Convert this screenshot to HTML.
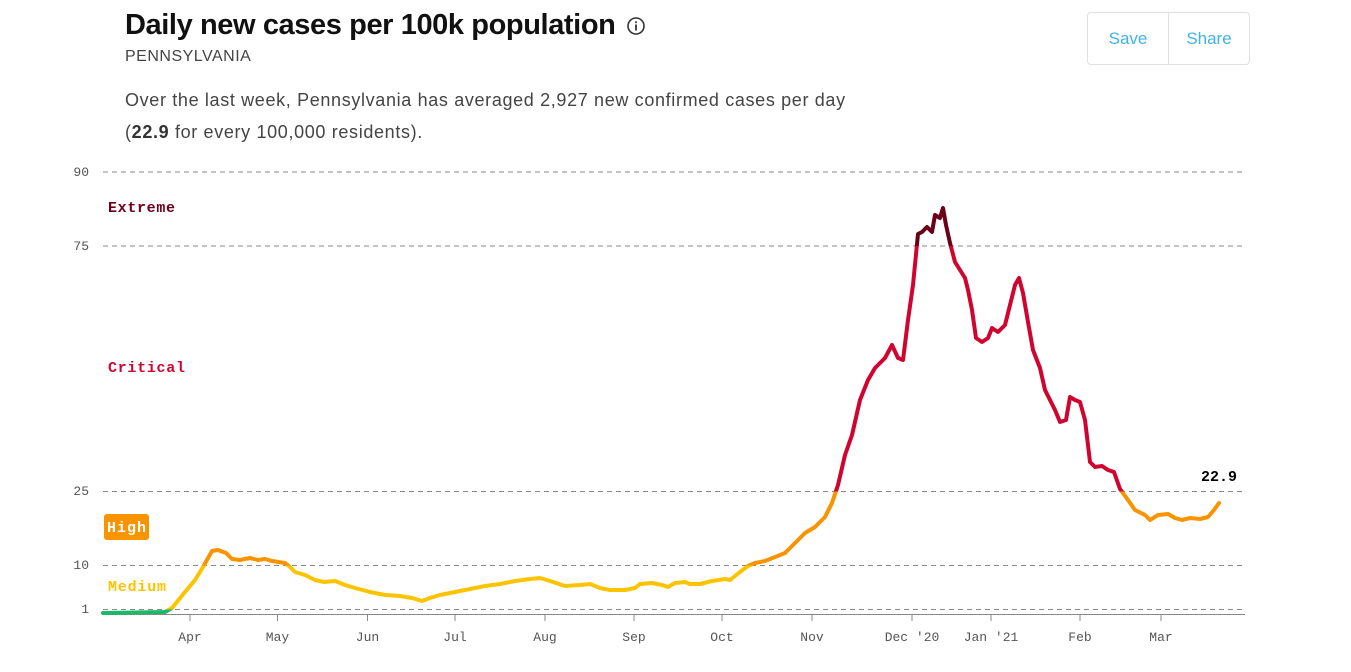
<!DOCTYPE html>
<html><head><meta charset="utf-8"><style>
body{margin:0;background:#fff;width:1351px;height:672px;overflow:hidden;position:relative;font-family:"Liberation Sans",sans-serif}
.t{position:absolute;left:125px;top:9px;font-size:29px;font-weight:bold;color:#111;letter-spacing:-0.4px}
.st{position:absolute;left:125px;top:48px;font-size:16px;color:#444;letter-spacing:0.5px}
.d{position:absolute;left:125px;top:84px;font-size:18px;color:#444;line-height:32px;letter-spacing:0.65px}
.btn{position:absolute;left:1087px;top:12px;width:161px;height:51px;border:1px solid #e0e0e0;border-radius:4px;display:flex}
.btn div{flex:1;text-align:center;line-height:51px;color:#3fb3e8;font-size:17px}
.btn div:first-child{border-right:1px solid #e0e0e0}
</style></head><body>
<div class="t">Daily new cases per 100k population</div>
<svg style="position:absolute;left:626px;top:16px" width="20" height="20"><circle cx="10" cy="10" r="8" fill="none" stroke="#333" stroke-width="1.6"/><rect x="9.1" y="8.5" width="1.8" height="6" fill="#333"/><rect x="9.1" y="5.3" width="1.8" height="1.8" fill="#333"/></svg>
<div class="st">PENNSYLVANIA</div>
<div class="d">Over the last week, Pennsylvania has averaged 2,927 new confirmed cases per day<br>(<b style="color:#333">22.9</b> for every 100,000 residents).</div>
<div class="btn"><div>Save</div><div>Share</div></div>
<svg style="position:absolute;left:0;top:0" width="1351" height="672" font-family="Liberation Mono, monospace">
<defs>
<clipPath id="c0"><rect x="0" y="609.5" width="1351" height="100"/></clipPath>
<clipPath id="c1"><rect x="0" y="565.5" width="1351" height="44"/></clipPath>
<clipPath id="c2"><rect x="0" y="491.5" width="1351" height="74"/></clipPath>
<clipPath id="c3"><rect x="0" y="246" width="1351" height="245.5"/></clipPath>
<clipPath id="c4"><rect x="0" y="0" width="1351" height="246"/></clipPath>
<path id="p" fill="none" stroke-width="4" stroke-linejoin="round" stroke-linecap="round" d="M103,613 L165,612 172,608 185,592 195,580 203,567 212,551 218,550 226,553 232,559 240,560 250,558 258,560 265,559 272,561 285,563 290,567 295,572 305,575 315,580 324,582 335,581 345,585 355,588 370,592 385,595 400,596 412,598 422,601 430,598 440,595 455,592 470,589 485,586 500,584 515,581 530,579 540,578 550,581 565,586 580,585 590,584 600,588 610,590 625,590 635,588 640,584 652,583 662,585 668,587 675,583 685,582 690,584 700,584 712,581 725,579 730,580 740,572 748,566 755,563 765,561 775,557 785,553 795,543 805,533 815,527 825,517 832,503 838,485 845,455 852,435 860,400 868,380 875,368 885,358 892,345 898,358 903,360 908,320 913,285 918,234 922,232 927,227 932,232 935,215 940,218 943,208 946,225 950,243 955,262 960,270 965,278 968,290 972,310 976,338 982,342 988,338 992,328 998,332 1005,325 1010,305 1015,285 1019,278 1023,293 1028,322 1033,350 1040,368 1045,390 1050,400 1055,410 1060,422 1066,420 1070,397 1075,400 1080,402 1085,420 1090,462 1095,467 1102,466 1108,470 1114,472 1120,489 1128,500 1135,510 1145,515 1150,520 1158,515 1168,514 1175,518 1182,520 1190,518 1200,519 1208,517 1214,510 1219,503"/>
</defs>
<g stroke="#888" stroke-width="1" stroke-dasharray="5,4">
<line x1="103" x2="1245" y1="172" y2="172"/><line x1="103" x2="1245" y1="246" y2="246"/><line x1="103" x2="1245" y1="491.5" y2="491.5"/><line x1="103" x2="1245" y1="565.5" y2="565.5"/><line x1="103" x2="1245" y1="609.5" y2="609.5"/>
</g>
<line x1="103" x2="1245" y1="614.5" y2="614.5" stroke="#888"/>
<g stroke="#888"><line x1="190" x2="190" y1="614" y2="621"/><line x1="277.5" x2="277.5" y1="614" y2="621"/><line x1="367.5" x2="367.5" y1="614" y2="621"/><line x1="455" x2="455" y1="614" y2="621"/><line x1="545" x2="545" y1="614" y2="621"/><line x1="634" x2="634" y1="614" y2="621"/><line x1="722" x2="722" y1="614" y2="621"/><line x1="812" x2="812" y1="614" y2="621"/><line x1="912" x2="912" y1="614" y2="621"/><line x1="991" x2="991" y1="614" y2="621"/><line x1="1080" x2="1080" y1="614" y2="621"/><line x1="1161" x2="1161" y1="614" y2="621"/></g>
<g font-size="13" fill="#555">
<text x="89" y="176" text-anchor="end">90</text><text x="89" y="250" text-anchor="end">75</text><text x="89" y="495" text-anchor="end">25</text><text x="89" y="569" text-anchor="end">10</text><text x="89" y="613" text-anchor="end">1</text>
</g>
<g font-size="13" fill="#555" text-anchor="middle">
<text x="190" y="641">Apr</text><text x="277.5" y="641">May</text><text x="367.5" y="641">Jun</text><text x="455" y="641">Jul</text><text x="545" y="641">Aug</text><text x="634" y="641">Sep</text><text x="722" y="641">Oct</text><text x="812" y="641">Nov</text><text x="912" y="641">Dec '20</text><text x="991" y="641">Jan '21</text><text x="1080" y="641">Feb</text><text x="1161" y="641">Mar</text>
</g>
<g font-size="15" font-weight="bold">
<text x="108" y="212" fill="#6b0019" textLength="67">Extreme</text>
<text x="108" y="372" fill="#d0052f" textLength="77">Critical</text>
<rect x="104" y="514" width="45" height="26" rx="3" fill="#f99400"/>
<text x="107" y="532" fill="#fff" textLength="39">High</text>
<text x="108" y="591" fill="#fcc400" textLength="58">Medium</text>
<text x="1219" y="481" fill="#000" text-anchor="middle">22.9</text>
</g>
<use href="#p" stroke="#1db86a" clip-path="url(#c0)"/>
<use href="#p" stroke="#fcc400" clip-path="url(#c1)"/>
<use href="#p" stroke="#f99400" clip-path="url(#c2)"/>
<use href="#p" stroke="#d0052f" clip-path="url(#c3)"/>
<use href="#p" stroke="#6b0019" clip-path="url(#c4)"/>
</svg>
</body></html>
